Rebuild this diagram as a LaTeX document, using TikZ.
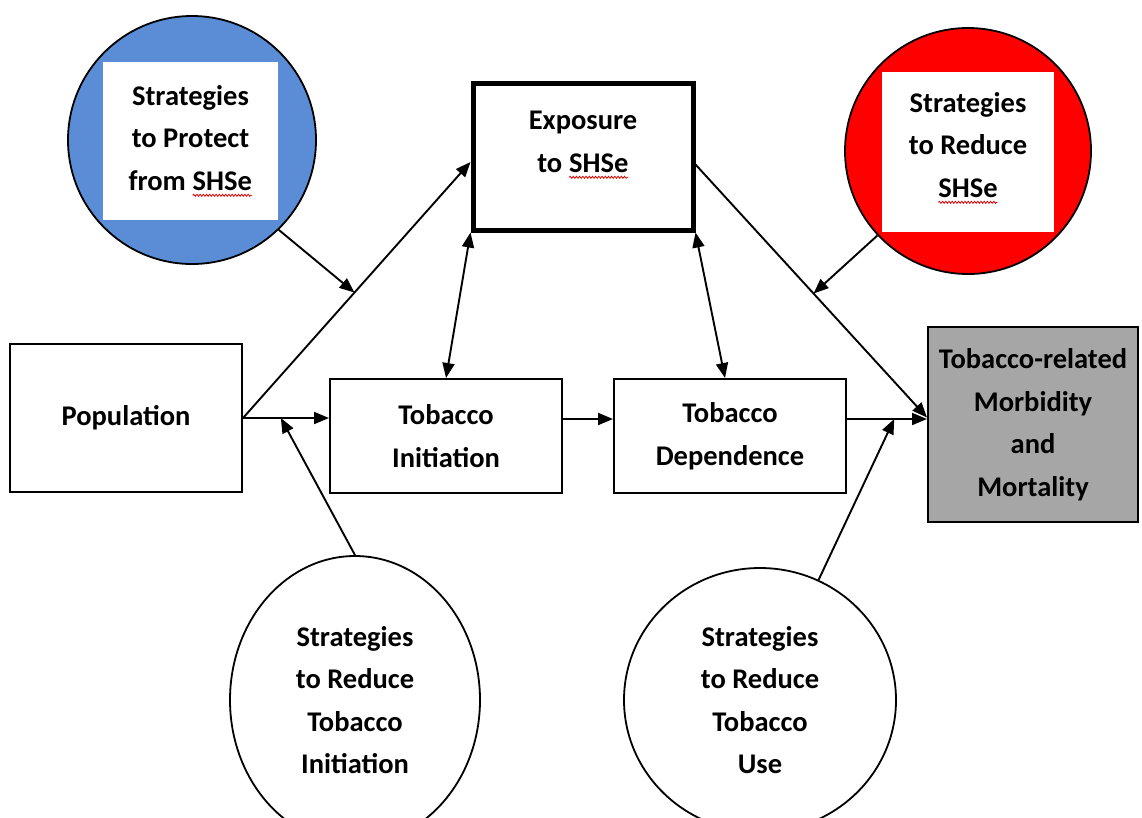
\documentclass[tikz,border=0pt]{standalone}
\usepackage{fontspec}
\setmainfont{Carlito}
\usetikzlibrary{arrows.meta,decorations.pathmorphing,shapes.geometric,calc}
\definecolor{blueC}{HTML}{5A8DD6}
\definecolor{redC}{HTML}{FF0000}
\definecolor{grayC}{HTML}{A6A6A6}
\tikzset{
  wavy/.style={draw=red!85!black, line width=0.8pt, decorate, decoration={snake, amplitude=1pt, segment length=3.2pt}},
  box/.style={draw=black, line width=2pt, rectangle, align=center, inner sep=2pt},
  whitebox/.style={fill=white, draw=none, rectangle, align=center, inner sep=2pt},
  bubble/.style={draw=black, line width=1.8pt, circle, inner sep=0pt},
  oval/.style={draw=black, line width=1.8pt, ellipse, align=center, inner sep=0pt},
  label/.style={align=center, inner sep=0pt},
  conn/.style={line width=1.9pt, -{Triangle[length=15pt,width=12pt]}},
  dconn/.style={line width=1.9pt, {Triangle[length=15pt,width=12pt]}-{Triangle[length=15pt,width=12pt]}},
  plainword/.style={rectangle, inner sep=0pt, outer sep=0pt, draw=none, fill=none, minimum width=0pt, minimum height=0pt, line width=0.8pt}
}
\newcommand{\shseword}{\tikz[baseline=(w.base)]{\node[plainword](w){SHSe};\draw[wavy] ([yshift=-5pt]w.base west)--([yshift=-5pt]w.base east);}}
\begin{document}
\begin{tikzpicture}[x=1pt,y=-1pt,font=\bfseries\fontsize{28.5}{42.5}\selectfont]
\fill[white] (0,0) rectangle (1142,817);
\useasboundingbox (0,0) rectangle (1142,817);

% boxes
\node[box, minimum width=232pt, minimum height=148pt] (pop) at (126,418) {Population};
\node[box, minimum width=232pt, minimum height=114pt] (init) at (446,436) {Tobacco\\Initiation};
\node[box, minimum width=232pt, minimum height=114pt] (dep) at (730,436) {Tobacco\\Dependence};
\node[box, line width=5pt, minimum width=220pt, minimum height=147pt] (expo) at (583,156.5) {};
\node[label] (expot) at (583,145) {Exposure\\to \shseword};
\node[box, fill=grayC, minimum width=210pt, minimum height=195pt] (out) at (1033,424.5) {Tobacco-related\\Morbidity\\and\\Mortality};

% top circles
\node[bubble, fill=blueC, minimum size=248pt] (bc) at (192,140) {};
\node[whitebox, minimum width=175pt, minimum height=158pt] (bt) at (190.5,141) {Strategies\\to Protect\\from \shseword};
\node[bubble, fill=redC, minimum size=246pt] (rc) at (968,151) {};
\node[whitebox, minimum width=172pt, minimum height=160pt] (rt) at (968,152) {};
\node[label] (rtt) at (968,148) {Strategies\\to Reduce\\\shseword};

% bottom ovals
\node[oval, minimum width=250pt, minimum height=288pt] (blc) at (355,700) {Strategies\\to Reduce\\Tobacco\\Initiation};
\node[oval, minimum width=272pt, minimum height=264pt] (brc) at (760,700) {Strategies\\to Reduce\\Tobacco\\Use};

% connectors
\coordinate (e1) at ([yshift=-5.5pt]expo.west);
\draw[conn] (pop.east) -- (e1);
\draw[conn] (pop.east) -- (pop.east -| init.west);
\draw[conn] (bc.-46) -- ($(pop.east)!0.49!(e1)$);
\draw[conn] (blc.north) -- ($(pop.east)!0.44!(pop.east -| init.west)$);

\draw[dconn] (init.north) -- (expo.south west);
\draw[dconn] ([xshift=-5pt]dep.north) -- (expo.south east);
\draw[conn] ([yshift=17pt]init.east) -- ([yshift=17pt]dep.west);

\coordinate (g1) at ([yshift=7pt]out.west);
\draw[conn] ([yshift=-8pt]expo.east) -- (g1);
\draw[conn] (rc.-137) -- ($([yshift=-8pt]expo.east)!0.51!(g1)$);
\coordinate (d1) at ([yshift=17pt]dep.east);
\draw[conn] (d1) -- (d1 -| out.west);
\draw[conn] (brc.64) -- ($(d1)!0.59!(d1 -| out.west)$);
\end{tikzpicture}
\end{document}
